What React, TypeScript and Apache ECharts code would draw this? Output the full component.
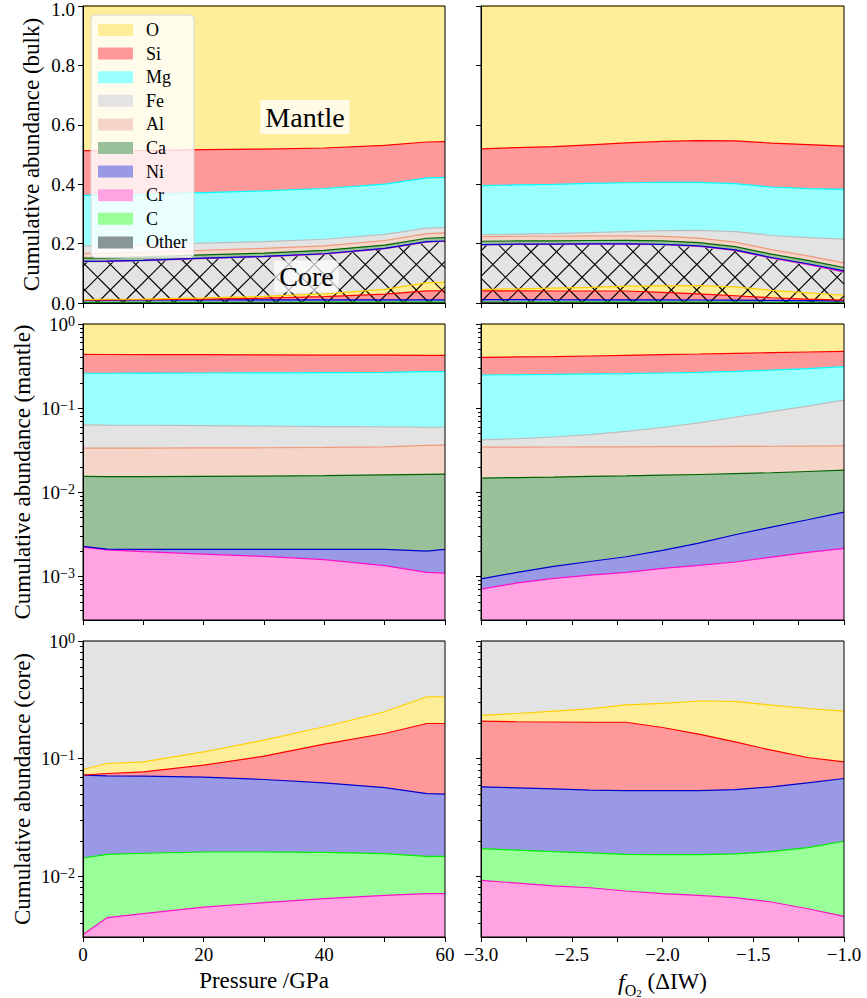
import React, { useEffect, useRef } from 'react';
import * as echarts from 'echarts';

// ---------------- x values ----------------
const pressureGPa = [0, 4, 10, 20, 30, 40, 50, 57, 60];
const fO2 = [-3.0, -2.8, -2.6, -2.4, -2.2, -2.0, -1.8, -1.6, -1.4, -1.2, -1.0];

// ---------------- tick labels ----------------
const pressureTickLabels = [0, 20, 40, 60];
const fO2TickLabels = [-3.0, -2.5, -2.0, -1.5, -1.0];
const mantleLogTicks = [1e-3, 1e-2, 1e-1, 1];
const coreLogTicks = [1e-2, 1e-1, 1];
const MANTLE_MIN = 3.05e-4;
const CORE_MIN = 3.05e-3;

// ---------------- core mass fraction (top of hatched region) ----------------
const coreFracP = [0.138, 0.139, 0.142, 0.149, 0.155, 0.164, 0.182, 0.205, 0.207];
const coreFracF = [0.196, 0.197, 0.197, 0.198, 0.198, 0.196, 0.19, 0.176, 0.15, 0.128, 0.103];

// ---------------- mantle cumulative abundance vs pressure ----------------
const mantleP_O = [1, 1, 1, 1, 1, 1, 1, 1, 1];
const mantleP_Si = [0.435, 0.434, 0.433, 0.432, 0.43, 0.428, 0.426, 0.424, 0.424];
const mantleP_Mg = [0.26, 0.26, 0.261, 0.262, 0.263, 0.265, 0.267, 0.272, 0.272];
const mantleP_Fe = [0.0634, 0.063, 0.0627, 0.0621, 0.0613, 0.0605, 0.0599, 0.0594, 0.0594];
const mantleP_Al = [0.0335, 0.0335, 0.0336, 0.0337, 0.0339, 0.0342, 0.0348, 0.0362, 0.0364];
const mantleP_Ca = [0.0155, 0.0154, 0.0154, 0.0155, 0.0156, 0.0158, 0.0161, 0.0164, 0.0165];
const mantleP_Ni = [0.00228, 0.00212, 0.0021, 0.0021, 0.0021, 0.0021, 0.0021, 0.00201, 0.00211];
const mantleP_Cr = [0.00224, 0.00208, 0.00198, 0.00185, 0.00174, 0.00159, 0.00135, 0.00112, 0.0011];

// ---------------- mantle cumulative abundance vs fO2 ----------------
const mantleF_O = [1, 1, 1, 1, 1, 1, 1, 1, 1, 1, 1];
const mantleF_Si = [0.402, 0.406, 0.41, 0.417, 0.425, 0.433, 0.44, 0.449, 0.457, 0.465, 0.474];
const mantleF_Mg = [0.248, 0.25, 0.252, 0.255, 0.258, 0.262, 0.267, 0.274, 0.283, 0.295, 0.312];
const mantleF_Fe = [0.042, 0.0435, 0.0455, 0.0485, 0.053, 0.059, 0.067, 0.078, 0.091, 0.106, 0.125];
const mantleF_Al = [0.0344, 0.0345, 0.0346, 0.0347, 0.0348, 0.0349, 0.035, 0.0352, 0.0353, 0.0355, 0.0357];
const mantleF_Ca = [0.0148, 0.015, 0.0152, 0.0155, 0.0157, 0.016, 0.0163, 0.0167, 0.0171, 0.0177, 0.0184];
const mantleF_Ni = [0.00094, 0.00112, 0.00132, 0.00151, 0.00172, 0.00205, 0.0025, 0.00314, 0.00387, 0.00473, 0.00583];
const mantleF_Cr = [0.00071, 0.00084, 0.00095, 0.00104, 0.00112, 0.00125, 0.00136, 0.00149, 0.0017, 0.00194, 0.00216];

// ---------------- core cumulative abundance vs pressure ----------------
const coreP_Fe = [1, 1, 1, 1, 1, 1, 1, 1, 1];
const coreP_O = [0.0809, 0.091, 0.094, 0.114, 0.1437, 0.1866, 0.2504, 0.336, 0.336];
const coreP_Si = [0.0724, 0.0748, 0.0773, 0.088, 0.105, 0.1328, 0.1637, 0.199, 0.199];
const coreP_Ni = [0.0724, 0.0714, 0.071, 0.0696, 0.0665, 0.0623, 0.0568, 0.0505, 0.0499];
const coreP_C = [0.01432, 0.01538, 0.0157, 0.0161, 0.0161, 0.016, 0.0156, 0.0148, 0.0148];
const coreP_Cr = [0.00321, 0.00445, 0.00481, 0.00548, 0.00597, 0.00646, 0.00689, 0.00712, 0.00712];

// ---------------- core cumulative abundance vs fO2 ----------------
const coreF_Fe = [1, 1, 1, 1, 1, 1, 1, 1, 1, 1, 1];
const coreF_O = [0.233, 0.242, 0.254, 0.265, 0.287, 0.295, 0.309, 0.307, 0.285, 0.267, 0.254];
const coreF_Si = [0.2085, 0.206, 0.205, 0.204, 0.204, 0.184, 0.1617, 0.139, 0.118, 0.1023, 0.094];
const coreF_Ni = [0.0576, 0.0564, 0.0553, 0.0541, 0.0536, 0.0536, 0.0536, 0.0546, 0.0576, 0.0623, 0.0678];
const coreF_C = [0.0172, 0.0167, 0.0162, 0.0158, 0.01538, 0.0153, 0.0153, 0.0155, 0.0162, 0.01754, 0.01986];
const coreF_Cr = [0.00924, 0.00877, 0.0083, 0.008, 0.0075, 0.00712, 0.0069, 0.00658, 0.00605, 0.0053, 0.00457];

const legendNames = ['O', 'Si', 'Mg', 'Fe', 'Al', 'Ca', 'Ni', 'Cr', 'C', 'Other'];

const FILL: Record<string, string> = {
  O: '#FFEE99', Si: '#FF9999', Mg: '#99FFFF', Fe: '#E3E3E3', Al: '#F4D5C8',
  Ca: '#99C199', Ni: '#9999E6', Cr: '#FFA3E3', C: '#99FF99', Other: '#899696',
};
const EDGE: Record<string, string> = {
  O: '#FFD000', Si: '#FF0000', Mg: '#00FFFF', Fe: '#BDBDBD', Al: '#EE9A7A',
  Ca: '#006400', Ni: '#0000CD', Cr: '#FF10C8', C: '#00EE00', Other: '#556060',
};

const FONT_T = "'Liberation Serif', serif";

const mantleMinor: number[] = [];
const coreMinor: number[] = [];
for (const k of [-4, -3, -2, -1]) {
  for (let m = 2; m <= 9; m++) {
    const v = m * Math.pow(10, k);
    if (v > MANTLE_MIN && v < 1) mantleMinor.push(v);
    if (v > CORE_MIN && v < 1) coreMinor.push(v);
  }
}

const bulkMantle = (cf: number[], m: number[]) => m.map((v, i) => cf[i] + (1 - cf[i]) * v);
const bulkCore = (cf: number[], c: number[]) => c.map((v, i) => cf[i] * v);

type Layer = { name: string; vals: number[] };

// 'x' hatch over the core region (0 .. core fraction), built in pixel space from api.coord
const HATCH_STEP = 25.5;
const HATCH_FWD_PHASE = -179.7; // x - y at a crossing point
const HATCH_BWD_PHASE = 400.3; // x + y at a crossing point
function hatchSeries(xs: number[], cf: number[], gi: number) {
  return {
    type: 'custom',
    xAxisIndex: gi,
    yAxisIndex: gi,
    z: 2.5,
    silent: true,
    data: [[xs[0], 0]],
    renderItem: (_params: any, api: any) => {
      const pts: number[][] = xs.map((x, i) => api.coord([x, cf[i]]));
      const yBot = api.coord([xs[0], 0])[1];
      const xL = pts[0][0];
      const xR = pts[pts.length - 1][0];
      const yTop = (px: number) => {
        for (let k = 0; k < pts.length - 1; k++) {
          const [xa, ya] = pts[k];
          const [xb, yb] = pts[k + 1];
          if (px >= xa && px <= xb) return ya + ((px - xa) * (yb - ya)) / (xb - xa);
        }
        return px < xL ? pts[0][1] : pts[pts.length - 1][1];
      };
      // solve h(px) = 0 for monotone h over [xL, xR] by bisection
      const solve = (h: (p: number) => number) => {
        let a = xL, b = xR;
        for (let it = 0; it < 40; it++) {
          const m = (a + b) / 2;
          if (h(a) * h(m) <= 0) b = m; else a = m;
        }
        return (a + b) / 2;
      };
      const children: any[] = [];
      const minTop = Math.min(...pts.map((p) => p[1]));
      const style = { stroke: '#000', lineWidth: 1.1 };
      // forward lines: y = x - c
      const cMinF = xL - yBot, cMaxF = xR - minTop;
      let k0 = Math.floor((cMinF - HATCH_FWD_PHASE) / HATCH_STEP);
      for (let c = HATCH_FWD_PHASE + k0 * HATCH_STEP; c <= cMaxF; c += HATCH_STEP) {
        const f = (p: number) => p - yTop(p) - c;
        let lo: number;
        if (f(xL) >= 0) lo = xL; else if (f(xR) < 0) continue; else lo = solve(f);
        const hi = Math.min(xR, yBot + c);
        if (hi <= lo) continue;
        children.push({ type: 'line', shape: { x1: lo, y1: lo - c, x2: hi, y2: hi - c }, style });
      }
      // backward lines: y = c - x
      const cMinB = xL + minTop, cMaxB = xR + yBot;
      k0 = Math.floor((cMinB - HATCH_BWD_PHASE) / HATCH_STEP);
      for (let c = HATCH_BWD_PHASE + k0 * HATCH_STEP; c <= cMaxB; c += HATCH_STEP) {
        const g = (p: number) => c - p - yTop(p);
        let hi: number;
        if (g(xR) >= 0) hi = xR; else if (g(xL) < 0) continue; else hi = solve(g);
        const lo = Math.max(xL, c - yBot);
        if (hi <= lo) continue;
        children.push({ type: 'line', shape: { x1: lo, y1: c - lo, x2: hi, y2: c - hi }, style });
      }
      return { type: 'group', children };
    },
  };
}

function buildOption() {
  // layers are given top (largest cumulative) -> bottom
  const mkSeries = (xs: number[], layers: Layer[], gi: number) => {
    const areas = layers.map((l) => ({
      type: 'line',
      name: l.name,
      xAxisIndex: gi,
      yAxisIndex: gi,
      data: xs.map((x, i) => [x, l.vals[i]]),
      symbol: 'none',
      showSymbol: false,
      silent: true,
      z: 2,
      lineStyle: { width: 0, opacity: 0 },
      itemStyle: { color: FILL[l.name] },
      areaStyle: { color: FILL[l.name], opacity: 1, origin: 'start' },
      emphasis: { disabled: true },
    }));
    const lines = layers.slice().reverse().map((l) => ({
      type: 'line',
      name: l.name,
      xAxisIndex: gi,
      yAxisIndex: gi,
      data: xs.map((x, i) => [x, l.vals[i]]),
      symbol: 'none',
      showSymbol: false,
      silent: true,
      z: 3,
      lineStyle: { color: EDGE[l.name], width: 1.2 },
      itemStyle: { color: FILL[l.name] },
      emphasis: { disabled: true },
    }));
    return [...areas, ...lines];
  };

  const bulkLayers = (cf: number[], mO: number[], mSi: number[], mMg: number[], mFe: number[], mAl: number[], mCa: number[], mNi: number[], mCr: number[],
    cFe: number[], cO: number[], cSi: number[], cNi: number[], cC: number[], cCr: number[]): Layer[] => [
    { name: 'O', vals: bulkMantle(cf, mO) },
    { name: 'Si', vals: bulkMantle(cf, mSi) },
    { name: 'Mg', vals: bulkMantle(cf, mMg) },
    { name: 'Fe', vals: bulkMantle(cf, mFe) },
    { name: 'Al', vals: bulkMantle(cf, mAl) },
    { name: 'Ca', vals: bulkMantle(cf, mCa) },
    { name: 'Ni', vals: bulkMantle(cf, mNi) },
    { name: 'Cr', vals: bulkMantle(cf, mCr) },
    { name: 'Fe', vals: bulkCore(cf, cFe) },
    { name: 'O', vals: bulkCore(cf, cO) },
    { name: 'Si', vals: bulkCore(cf, cSi) },
    { name: 'Ni', vals: bulkCore(cf, cNi) },
    { name: 'C', vals: bulkCore(cf, cC) },
    { name: 'Cr', vals: bulkCore(cf, cCr) },
  ];

  const series: any[] = [
    ...mkSeries(pressureGPa, bulkLayers(coreFracP, mantleP_O, mantleP_Si, mantleP_Mg, mantleP_Fe, mantleP_Al, mantleP_Ca, mantleP_Ni, mantleP_Cr,
      coreP_Fe, coreP_O, coreP_Si, coreP_Ni, coreP_C, coreP_Cr), 0),
    ...mkSeries(fO2, bulkLayers(coreFracF, mantleF_O, mantleF_Si, mantleF_Mg, mantleF_Fe, mantleF_Al, mantleF_Ca, mantleF_Ni, mantleF_Cr,
      coreF_Fe, coreF_O, coreF_Si, coreF_Ni, coreF_C, coreF_Cr), 1),
    hatchSeries(pressureGPa, coreFracP, 0),
    hatchSeries(fO2, coreFracF, 1),
    ...mkSeries(pressureGPa, [
      { name: 'O', vals: mantleP_O }, { name: 'Si', vals: mantleP_Si }, { name: 'Mg', vals: mantleP_Mg },
      { name: 'Fe', vals: mantleP_Fe }, { name: 'Al', vals: mantleP_Al }, { name: 'Ca', vals: mantleP_Ca },
      { name: 'Ni', vals: mantleP_Ni }, { name: 'Cr', vals: mantleP_Cr },
    ], 2),
    ...mkSeries(fO2, [
      { name: 'O', vals: mantleF_O }, { name: 'Si', vals: mantleF_Si }, { name: 'Mg', vals: mantleF_Mg },
      { name: 'Fe', vals: mantleF_Fe }, { name: 'Al', vals: mantleF_Al }, { name: 'Ca', vals: mantleF_Ca },
      { name: 'Ni', vals: mantleF_Ni }, { name: 'Cr', vals: mantleF_Cr },
    ], 3),
    ...mkSeries(pressureGPa, [
      { name: 'Fe', vals: coreP_Fe }, { name: 'O', vals: coreP_O }, { name: 'Si', vals: coreP_Si },
      { name: 'Ni', vals: coreP_Ni }, { name: 'C', vals: coreP_C }, { name: 'Cr', vals: coreP_Cr },
    ], 4),
    ...mkSeries(fO2, [
      { name: 'Fe', vals: coreF_Fe }, { name: 'O', vals: coreF_O }, { name: 'Si', vals: coreF_Si },
      { name: 'Ni', vals: coreF_Ni }, { name: 'C', vals: coreF_C }, { name: 'Cr', vals: coreF_Cr },
    ], 5),
    { type: 'line', name: 'Other', xAxisIndex: 0, yAxisIndex: 0, data: [], symbol: 'none', itemStyle: { color: FILL.Other } },
  ];

  const lefts = [83, 481];
  const widths = [362, 363];
  const tops = [6, 324, 641];
  const heights = [297, 296, 296];
  const grid: any[] = [];
  for (let r = 0; r < 3; r++) {
    for (let c = 0; c < 2; c++) {
      grid.push({
        left: lefts[c], top: tops[r], width: widths[c], height: heights[r],
        show: true, borderColor: '#000', borderWidth: 1, backgroundColor: 'rgba(0,0,0,0)',
        z: 10, containLabel: false, outerBoundsMode: 'none',
      });
    }
  }

  const tickStyle = { color: '#000', width: 1 };
  const xAxis: any[] = [];
  for (let gi = 0; gi < 6; gi++) {
    const isLeft = gi % 2 === 0;
    const bottom = gi >= 4;
    xAxis.push({
      type: 'value', gridIndex: gi, z: 10,
      min: isLeft ? 0 : -3, max: isLeft ? 60 : -1, interval: isLeft ? 10 : 0.25,
      axisLine: { show: true, onZero: false, lineStyle: tickStyle },
      axisTick: { show: true, length: 5, lineStyle: tickStyle },
      splitLine: { show: false },
      axisLabel: {
        show: bottom, showMinLabel: true, showMaxLabel: true,
        fontFamily: FONT_T, fontSize: 19, color: '#000', margin: 8,
        formatter: (v: number) => {
          if (isLeft) return pressureTickLabels.some((t) => Math.abs(t - v) < 1e-9) ? String(v) : '';
          return fO2TickLabels.some((t) => Math.abs(t - v) < 1e-9) ? v.toFixed(1).replace('-', '\u2212') : '';
        },
      },
      name: bottom ? (isLeft ? 'Pressure /GPa' : '{f|f}{o|O}{t|2}{n| (\u0394IW)}') : '',
      nameLocation: 'middle',
      nameGap: isLeft ? 30 : 21,
      nameTextStyle: {
        fontFamily: FONT_T, fontSize: 23, color: '#000', lineHeight: 26,
        rich: {
          f: { fontFamily: FONT_T, fontStyle: 'italic', fontSize: 24, lineHeight: 34, verticalAlign: 'middle', color: '#000' },
          o: { fontFamily: FONT_T, fontSize: 16, lineHeight: 16, verticalAlign: 'bottom', color: '#000' },
          t: { fontFamily: FONT_T, fontSize: 11, lineHeight: 11, verticalAlign: 'bottom', color: '#000' },
          n: { fontFamily: FONT_T, fontSize: 23, lineHeight: 34, verticalAlign: 'middle', color: '#000' },
        },
      },
    });
  }

  const yNames = ['Cumulative abundance (bulk)', 'Cumulative abundance (mantle)', 'Cumulative abundance (core)'];
  const logFormatter = (v: number) => {
    const e = Math.round(Math.log10(v));
    return '{b|10}{e|' + (e < 0 ? '\u2212' + -e : String(e)) + '}';
  };
  const logRich = {
    b: { fontFamily: FONT_T, fontSize: 19, lineHeight: 20, verticalAlign: 'middle', color: '#000' },
    e: { fontFamily: FONT_T, fontSize: 14, lineHeight: 7, verticalAlign: 'top', color: '#000' },
  };

  const yAxis: any[] = [];
  for (let gi = 0; gi < 6; gi++) {
    const row = Math.floor(gi / 2);
    const isLeft = gi % 2 === 0;
    const base: any = {
      gridIndex: gi, position: 'left', z: 10,
      axisLine: { show: true, onZero: false, lineStyle: tickStyle },
      splitLine: { show: false },
      name: isLeft ? yNames[row] : '',
      nameLocation: 'middle',
      nameGap: row === 0 ? 40 : 49,
      nameTextStyle: { fontFamily: FONT_T, fontSize: 23, color: '#000' },
    };
    if (row === 0) {
      yAxis.push({
        ...base, type: 'value', min: 0, max: 1, interval: 0.2,
        axisTick: { show: true, length: 5, lineStyle: tickStyle },
        axisLabel: {
          show: isLeft, fontFamily: FONT_T, fontSize: 19, lineHeight: 12, color: '#000', margin: 8,
          formatter: (v: number) => (v >= 0.999 ? '{top|' + v.toFixed(1) + '}' : v.toFixed(1)),
          rich: { top: { fontFamily: FONT_T, fontSize: 19, lineHeight: 12, padding: [7, 0, 0, 0], color: '#000' } },
        },
      });
    } else {
      const ticks = row === 1 ? mantleLogTicks : coreLogTicks;
      yAxis.push({
        ...base, type: 'log', logBase: 10, min: row === 1 ? MANTLE_MIN : CORE_MIN, max: 1,
        axisTick: { show: true, length: 5, lineStyle: tickStyle, customValues: ticks },
        axisLabel: { show: isLeft, customValues: ticks, formatter: logFormatter, rich: logRich, fontFamily: FONT_T, fontSize: 19, color: '#000', margin: 8 },
      });
    }
  }
  for (let gi = 2; gi < 6; gi++) {
    const row = Math.floor(gi / 2);
    yAxis.push({
      type: 'log', logBase: 10, gridIndex: gi, position: 'left', offset: 0, z: 10,
      min: row === 1 ? MANTLE_MIN : CORE_MIN, max: 1,
      axisLine: { show: false },
      axisTick: { show: true, length: 3, lineStyle: tickStyle, customValues: row === 1 ? mantleMinor : coreMinor },
      axisLabel: { show: false },
      splitLine: { show: false },
    });
  }

  return {
    animation: false,
    backgroundColor: '#fff',
    grid,
    xAxis,
    yAxis,
    series,
    legend: {
      orient: 'vertical',
      left: 91,
      top: 15,
      padding: [6, 7, 6, 7],
      itemWidth: 35,
      itemHeight: 12,
      itemGap: 5.6,
      icon: 'rect',
      backgroundColor: 'rgba(255,255,255,0.8)',
      borderColor: '#d6d6d6',
      borderWidth: 1,
      borderRadius: 4,
      selectedMode: false,
      textStyle: { fontFamily: FONT_T, fontSize: 18, color: '#000', padding: [0, 0, 0, 8] },
      data: legendNames.map((n) => ({ name: n, icon: 'rect', itemStyle: { color: FILL[n], borderWidth: 0 } })),
      z: 20,
    },
    graphic: [
      {
        type: 'text', z: 100, x: 305, y: 117,
        style: {
          text: 'Mantle', font: "28px 'Liberation Serif', serif", fill: '#000',
          align: 'center', verticalAlign: 'middle',
          backgroundColor: 'rgba(255,255,255,0.75)', padding: [3, 5, 3, 5],
        },
      },
      {
        type: 'text', z: 100, x: 306.5, y: 276.5,
        style: {
          text: 'Core', font: "28px 'Liberation Serif', serif", fill: '#000',
          align: 'center', verticalAlign: 'middle',
          backgroundColor: 'rgba(255,255,255,0.7)', padding: [2, 5, 2, 5],
        },
      },
    ],
  };
}

export default function App() {
  const ref = useRef<HTMLDivElement>(null);
  useEffect(() => {
    document.body.style.margin = '0';
    const chart = echarts.init(ref.current!, undefined, { renderer: 'svg', width: 867, height: 998 });
    chart.setOption(buildOption() as any);
    return () => chart.dispose();
  }, []);
  return <div ref={ref} style={{ position: 'fixed', left: 0, top: 0, width: 867, height: 998, background: '#fff' }} />;
}
